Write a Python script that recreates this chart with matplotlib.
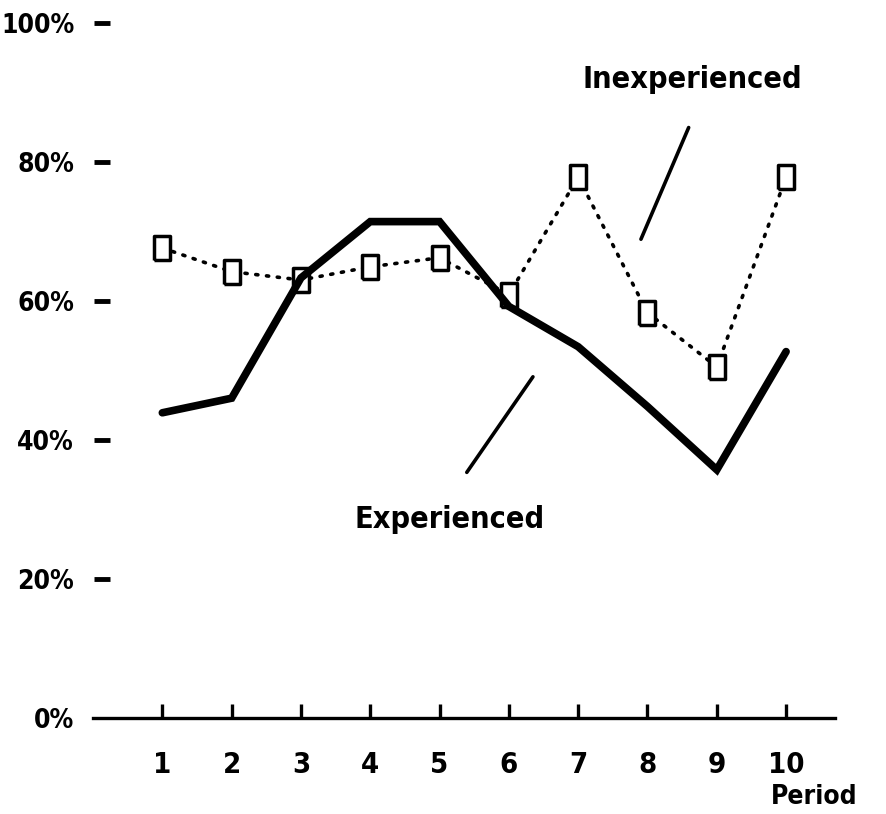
import matplotlib
matplotlib.use("Agg")
import matplotlib.pyplot as plt

# values (percent)
periods = [1, 2, 3, 4, 5, 6, 7, 8, 9, 10]
experienced = [43.9, 46.0, 63.3, 71.4, 71.4, 59.2, 53.4, 44.8, 35.7, 52.7]
inexperienced = [67.6, 64.2, 63.0, 64.9, 66.2, 60.9, 77.8, 58.3, 50.5, 77.8]
y_ticks = [0, 20, 40, 60, 80, 100]
y_labels = ["0%", "20%", "40%", "60%", "80%", "100%"]

font = dict(family=["DejaVu Sans"], stretch="condensed", weight="bold")

# tall hollow box, like the plotter's markers
box = [(-0.33, -0.5), (0.33, -0.5), (0.33, 0.5), (-0.33, 0.5), (-0.33, -0.5)]

fig = plt.figure(figsize=(8.86, 8.14), dpi=100)
ax = fig.add_axes([0.105, 0.118, 0.837, 0.854])

ax.plot(periods, experienced, color="black", lw=5.5,
        solid_joinstyle="miter", solid_capstyle="round", zorder=3)
ax.plot(periods, inexperienced, color="black", lw=2.6,
        linestyle=(0, (0.6, 2.4)), dash_capstyle="round", zorder=2,
        marker=box, markersize=17, markerfacecolor="white",
        markeredgecolor="black", markeredgewidth=2.5)

# callout labels
ax.annotate("", xy=(7.89, 68.5), xytext=(8.61, 85.3),
            arrowprops=dict(arrowstyle="-", lw=2.6, color="black"))
ax.text(8.64, 91.8, "Inexperienced", ha="center", va="center",
        fontsize=22, **font)
ax.annotate("", xy=(5.37, 35.0), xytext=(6.37, 49.4),
            arrowprops=dict(arrowstyle="-", lw=2.6, color="black"))
ax.text(5.15, 28.5, "Experienced", ha="center", va="center",
        fontsize=22, **font)
ax.text(10.41, -11.4, "Period", ha="center", va="center",
        fontsize=19, clip_on=False, **font)

ax.set_xlim(0, 10.7)
ax.set_ylim(0, 100)

for side in ["top", "right", "left"]:
    ax.spines[side].set_visible(False)
ax.spines["left"].set_position(("axes", 0.012))
ax.spines["bottom"].set_linewidth(2.4)

ax.set_xticks(periods)
ax.set_xticklabels([str(p) for p in periods], fontsize=21, **font)
ax.tick_params(axis="x", direction="in", length=10, width=2.4, pad=24)

ax.set_yticks(y_ticks)
ax.set_yticklabels(y_labels, fontsize=19, **font)
ax.tick_params(axis="y", direction="inout", length=12, width=3.5, pad=14)
ax.yaxis.get_major_ticks()[0].tick1line.set_visible(False)

fig.savefig("out.png", dpi=100, facecolor="white")
